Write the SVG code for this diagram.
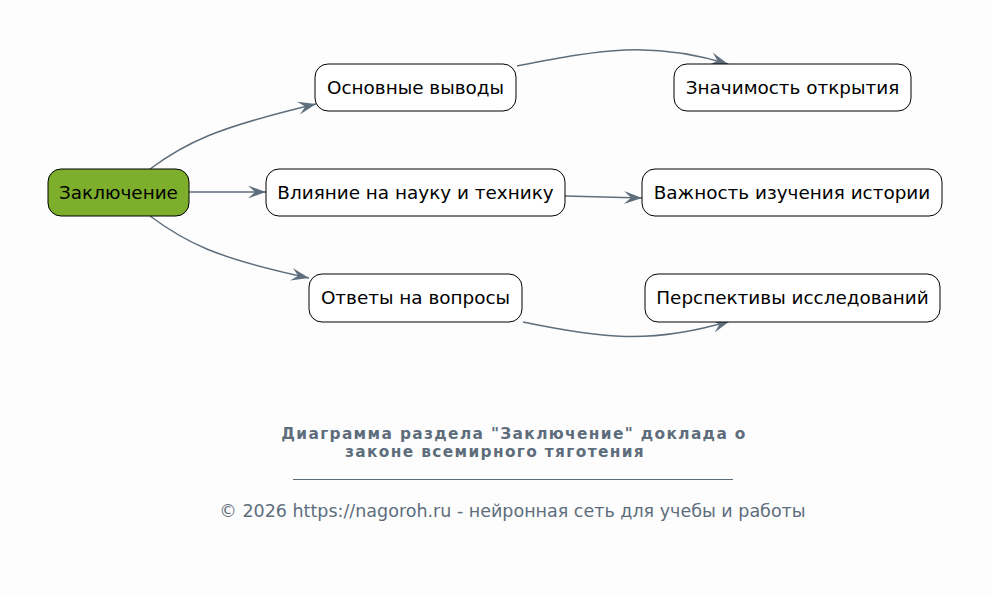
<svg xmlns="http://www.w3.org/2000/svg" width="991" height="595" viewBox="0 0 991 595">
<defs>
<style>
.node rect{fill:#ffffff;stroke:#000000;stroke-width:1}
.node text{font-family:"DejaVu Sans",sans-serif;font-size:18.4px;fill:#000000;text-anchor:middle}
.edge{fill:none;stroke:#5f6e7c;stroke-width:1.5;marker-end:url(#arr)}
.title{font-family:"DejaVu Sans",sans-serif;font-size:15.4px;font-weight:bold;fill:#5e6d7c;letter-spacing:1.35px}
.foot{font-family:"DejaVu Sans",sans-serif;font-size:17.5px;fill:#5e6d7c;text-anchor:middle}
</style>
<marker id="arr" viewBox="0 0 20 14" refX="19" refY="7" markerWidth="20" markerHeight="14" markerUnits="userSpaceOnUse" orient="auto">
<path d="M1,0.5 L19,7 L1,13.5 L8,7 z" fill="#5f6e7c"/>
</marker>
</defs>
<rect width="991" height="595" fill="#fdfdfd"/>
<g id="connectors">
<path class="edge" d="M150,169 C185,143 215,128 316,104"/>
<path class="edge" d="M189,192 L266,192"/>
<path class="edge" d="M150,216 C185,242 215,258 309,278"/>
<path class="edge" d="M517,66 C600,50 650,40 728,64"/>
<path class="edge" d="M565,196 L642,198"/>
<path class="edge" d="M523,322 C600,338 650,345 730,321"/>
</g>
<g id="n-zakl" class="node"><rect x="48" y="169" width="141" height="47" rx="13" style="fill:#7daf2d"/><text x="118.5" y="198.5">Заключение</text></g>
<g id="n-osn" class="node"><rect x="315" y="64" width="201" height="47" rx="13"/><text x="415.5" y="93.5">Основные выводы</text></g>
<g id="n-vliy" class="node"><rect x="266" y="169" width="299" height="47" rx="13"/><text x="415.5" y="198.5">Влияние на науку и технику</text></g>
<g id="n-otv" class="node"><rect x="309" y="274" width="213" height="48" rx="13"/><text x="415.5" y="303.5">Ответы на вопросы</text></g>
<g id="n-znach" class="node"><rect x="674" y="64" width="237" height="47" rx="13"/><text x="792.5" y="93.5">Значимость открытия</text></g>
<g id="n-vazh" class="node"><rect x="642" y="169" width="300" height="47" rx="13"/><text x="792" y="198.5">Важность изучения истории</text></g>
<g id="n-persp" class="node"><rect x="645" y="274" width="295" height="48" rx="13"/><text x="792.5" y="303.5">Перспективы исследований</text></g>
<g id="caption">
<text class="title" x="514" y="438.5" text-anchor="middle">Диаграмма раздела "Заключение" доклада о</text>
<text class="title" x="495" y="456.5" text-anchor="middle">законе всемирного тяготения</text>
<line x1="293" y1="479.5" x2="733" y2="479.5" stroke="#5e6d7c" stroke-width="1"/>
<text class="foot" x="512.5" y="517">© 2026 https://nagoroh.ru - нейронная сеть для учебы и работы</text>
</g>
</svg>
